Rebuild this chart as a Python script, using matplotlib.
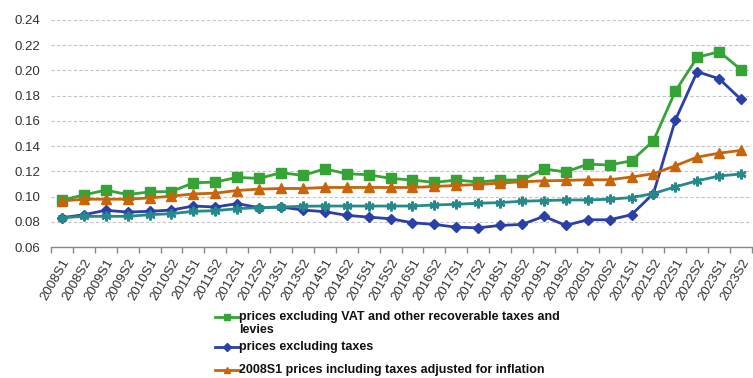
import matplotlib
matplotlib.use("Agg")
import matplotlib.pyplot as plt
from matplotlib.lines import Line2D
import numpy as np

plt.rcParams['font.family'] = ['Liberation Sans', 'DejaVu Sans']

periods = [f"{y}S{h}" for y in range(2008, 2024) for h in (1, 2)]

excl_vat_levies = [0.0971, 0.1013, 0.1051, 0.1016, 0.1037, 0.1040, 0.1109, 0.1115,
                   0.1152, 0.1144, 0.1189, 0.1168, 0.1219, 0.1181, 0.1173, 0.1144,
                   0.1131, 0.1112, 0.1131, 0.1115, 0.1131, 0.1131, 0.1219, 0.1195,
                   0.1257, 0.1250, 0.1284, 0.1442, 0.1835, 0.2104, 0.2149, 0.2006]
excl_taxes = [0.0832, 0.0856, 0.0891, 0.0877, 0.0883, 0.0893, 0.0925, 0.0917,
              0.0944, 0.0912, 0.0917, 0.0893, 0.0880, 0.0851, 0.0837, 0.0824,
              0.0792, 0.0779, 0.0757, 0.0752, 0.0771, 0.0779, 0.0843, 0.0771,
              0.0816, 0.0816, 0.0856, 0.1024, 0.1606, 0.1990, 0.1934, 0.1770]
incl_taxes_infl = [0.0965, 0.0979, 0.0979, 0.0979, 0.0989, 0.1003, 0.1021, 0.1027,
                   0.1048, 0.1059, 0.1064, 0.1064, 0.1072, 0.1072, 0.1072, 0.1072,
                   0.1072, 0.1080, 0.1088, 0.1096, 0.1107, 0.1117, 0.1125, 0.1128,
                   0.1133, 0.1133, 0.1155, 0.1181, 0.1244, 0.1313, 0.1344, 0.1366]
excl_taxes_infl = [0.0832, 0.0843, 0.0843, 0.0843, 0.0856, 0.0864, 0.0883, 0.0888,
                   0.0904, 0.0912, 0.0917, 0.0923, 0.0925, 0.0925, 0.0925, 0.0925,
                   0.0925, 0.0933, 0.0939, 0.0947, 0.0952, 0.0963, 0.0968, 0.0973,
                   0.0973, 0.0979, 0.0992, 0.1024, 0.1077, 0.1125, 0.1163, 0.1179]

yticks = [0.06, 0.08, 0.10, 0.12, 0.14, 0.16, 0.18, 0.20, 0.22, 0.24]

GREEN = "#36a336"
BLUE = "#2a3fa8"
ORANGE = "#c8640a"
TEAL = "#268a8a"

fig = plt.figure(figsize=(7.53, 3.78), dpi=100)
ax = fig.add_axes([51 / 753, 1 - 247 / 378, (752 - 51) / 753, (247 - 20) / 378])

x = np.arange(len(periods))
series = [
    (excl_vat_levies, GREEN, "s", 6.5, "prices excluding VAT and other recoverable taxes and\nlevies"),
    (excl_taxes, BLUE, "D", 5, "prices excluding taxes"),
    (incl_taxes_infl, ORANGE, "^", 6.5, "2008S1 prices including taxes adjusted for inflation"),
    (excl_taxes_infl, TEAL, (6, 2, 0), 7, None),
]
for vals, col, mk, ms, lab in series:
    ax.plot(x, vals, color=col, lw=2, marker=mk, ms=ms, mec=col, mew=1.8 if lab is None else 1,
            mfc=col, zorder=3)

ax.set_xlim(-0.5, len(periods) - 0.5)
ax.set_ylim(0.06, 0.24)
ax.set_yticks(yticks)
ax.set_yticklabels([f"{v:.2f}" for v in yticks])
ax.yaxis.grid(True, color="#c4c4c4", ls=(0, (3, 2)), lw=0.8)
ax.set_axisbelow(True)

ax.set_xticks(np.arange(len(periods) + 1) - 0.5)
ax.set_xticklabels([])
ax.set_xticks(x, minor=True)
ax.set_xticklabels(periods, minor=True, rotation=60, ha="right", va="top",
                   rotation_mode="anchor", fontsize=9.5, color="#333333")
ax.tick_params(axis="x", which="major", length=4, color="#888888", width=1)
ax.tick_params(axis="x", which="minor", length=0, pad=7)
ax.tick_params(axis="y", length=0, labelsize=9.5, labelcolor="#333333", pad=8)

for s in ("left", "right", "top"):
    ax.spines[s].set_visible(False)
ax.spines["bottom"].set_color("#888888")
ax.spines["bottom"].set_linewidth(1)

# legend drawn below the plot, one handle per labelled series
legend_rows = [(317, series[0]), (347, series[1]), (370, series[2])]
for ypix, (vals, col, mk, ms, lab) in legend_rows:
    yf = 1 - ypix / 378
    fig.add_artist(Line2D([215 / 753, 239 / 753], [yf, yf], color=col, lw=2,
                          transform=fig.transFigure))
    fig.add_artist(Line2D([227 / 753], [yf], color=col, marker=mk, ms=ms * 0.75,
                          mfc=col, mec=col, transform=fig.transFigure))
    fig.text(239 / 753, yf + 6 / 378, lab, ha="left", va="top", fontsize=9,
             fontweight="bold", color="#111111", linespacing=1.12)

fig.savefig("out.png", dpi=100)
